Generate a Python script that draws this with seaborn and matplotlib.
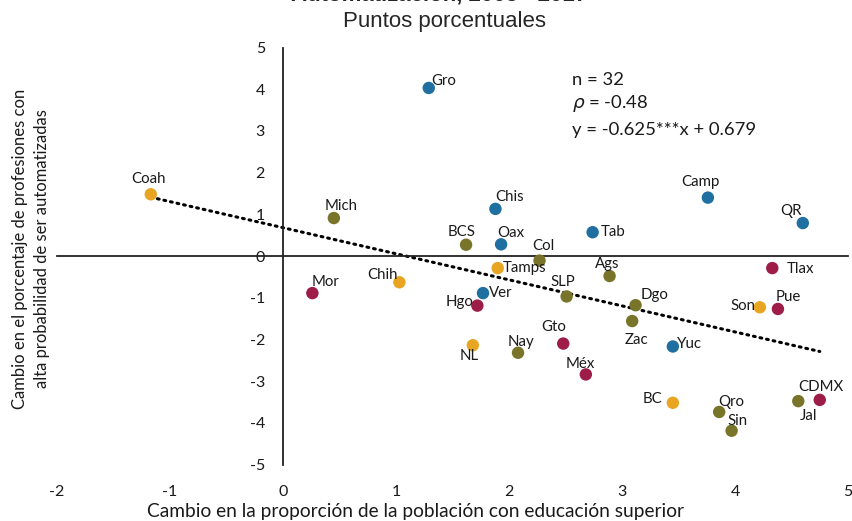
import matplotlib
matplotlib.use("Agg")
import matplotlib.pyplot as plt
import seaborn as sns
import numpy as np
import pandas as pd

# ---------------- data ----------------
estados = ["Coah", "Gro", "Mich", "Chis", "Oax", "Col", "Tab", "Camp", "QR", "BCS",
           "Tamps", "Mor", "Chih", "Ver", "Hgo", "SLP", "NL", "Nay", "Gto", "Méx",
           "Ags", "Tlax", "Dgo", "Zac", "Son", "Pue", "Yuc", "BC", "Qro", "Sin",
           "Jal", "CDMX"]
cambio_educacion = [-1.17, 1.29, 0.45, 1.88, 1.93, 2.27, 2.74, 3.76, 4.60, 1.62,
                    1.90, 0.26, 1.03, 1.77, 1.72, 2.51, 1.68, 2.08, 2.48, 2.68,
                    2.89, 4.33, 3.12, 3.09, 4.22, 4.38, 3.45, 3.45, 3.86, 3.97,
                    4.56, 4.75]
cambio_automatizacion = [1.48, 4.03, 0.91, 1.13, 0.28, -0.11, 0.57, 1.40, 0.79, 0.27,
                         -0.29, -0.89, -0.63, -0.89, -1.19, -0.97, -2.14, -2.32, -2.10, -2.84,
                         -0.48, -0.29, -1.18, -1.56, -1.23, -1.27, -2.17, -3.52, -3.74, -4.19,
                         -3.48, -3.45]
region = ["Norte", "Sur", "Centro-norte", "Sur", "Sur", "Centro-norte", "Sur", "Sur", "Sur", "Centro-norte",
          "Norte", "Centro", "Norte", "Sur", "Centro", "Centro-norte", "Norte", "Centro-norte", "Centro", "Centro",
          "Centro-norte", "Centro", "Centro-norte", "Centro-norte", "Norte", "Centro", "Sur", "Norte", "Centro-norte", "Centro-norte",
          "Centro-norte", "Centro"]
pendiente = -0.625
intercepto = 0.679
n_obs = 32
rho = -0.48
x_ticks = [-2, -1, 0, 1, 2, 3, 4, 5]
y_ticks = [-5, -4, -3, -2, -1, 0, 1, 2, 3, 4, 5]

# ---------------- styles / layout ----------------
palette = {"Sur": "#1F6FA0", "Norte": "#E8A521", "Centro-norte": "#78742A", "Centro": "#9E1C48"}
# label offsets in pixels (dx, dy, ha)
label_pos = {
    "Gro": (2, 7, "left"), "Coah": (-2, 15, "center"), "Mich": (7, 12, "center"),
    "Chis": (0, 12, "left"), "Oax": (-4, 11, "left"), "Col": (4, 15, "center"),
    "Tab": (8, 0, "left"), "Camp": (-7, 16, "center"), "QR": (-12, 12, "center"),
    "BCS": (-4, 13, "center"), "Tamps": (5, 0, "left"), "Mor": (13, 11, "center"),
    "Chih": (-17, 7, "center"), "Ver": (6, 0, "left"), "Hgo": (-4, 4, "right"),
    "SLP": (-4, 14, "center"), "NL": (-4, -11, "center"), "Nay": (3, 11, "center"),
    "Gto": (-10, 17, "center"), "Méx": (-6, 10, "center"), "Ags": (-2, 12, "center"),
    "Tlax": (14, -1, "left"), "Dgo": (5, 10, "left"), "Zac": (4, -19, "center"),
    "Son": (-4, 1, "right"), "Pue": (10, 12, "center"), "Yuc": (4, 2, "left"),
    "BC": (-10, 4, "right"), "Qro": (12, 10, "center"), "Sin": (6, 10, "center"),
    "Jal": (10, -15, "center"), "CDMX": (1, 13, "center"),
}

sns.set_style("white")
plt.rcParams["font.family"] = ["Lato", "DejaVu Sans"]
plt.rcParams["axes.unicode_minus"] = False

df = pd.DataFrame({"estado": estados, "x": cambio_educacion,
                   "y": cambio_automatizacion, "region": region})

W, H = 853, 521
fig = plt.figure(figsize=(W / 100, H / 100), dpi=100)
ax = fig.add_axes([57 / W, 1 - 464.5 / H, (848 - 57) / W, (464.5 - 47.5) / H])

# trend line
xl = np.array([min(cambio_educacion), max(cambio_educacion)])
ax.plot(xl, pendiente * xl + intercepto, color="black", lw=2.2,
        linestyle=(0, (0.6, 1.6)), dash_capstyle="round", zorder=1)

sns.scatterplot(data=df, x="x", y="y", hue="region", palette=palette, s=80,
                edgecolor="none", legend=False, ax=ax, zorder=3)

for e, xv, yv in zip(estados, cambio_educacion, cambio_automatizacion):
    dx, dy, ha = label_pos[e]
    ax.annotate(e, (xv, yv), xytext=(dx * 0.72, dy * 0.72), textcoords="offset points",
                ha=ha, va="center", fontsize=10.8, color="#1a1a1a", zorder=4)

ax.set_xlim(-2, 5)
ax.set_ylim(-5, 5)
ax.set_xlabel("")
ax.set_ylabel("")
for s in ["top", "right"]:
    ax.spines[s].set_visible(False)
ax.spines["left"].set_position(("data", 0))
ax.spines["bottom"].set_position(("data", 0))
for s in ["left", "bottom"]:
    ax.spines[s].set_color("#222222")
    ax.spines[s].set_linewidth(1.3)
ax.set_xticks(x_ticks)
ax.set_yticks(y_ticks)
ax.tick_params(axis="x", direction="out", length=5, width=1.2, color="#222222", labelbottom=False)
ax.tick_params(axis="y", direction="out", length=5, width=1.2, color="#222222",
               labelsize=11.5, pad=8, labelcolor="#1a1a1a")

sec = ax.secondary_xaxis("bottom")
sec.set_xticks(x_ticks)
sec.spines["bottom"].set_visible(False)
sec.tick_params(length=0, pad=15, labelsize=11.5, labelcolor="#1a1a1a")

# stats text
ax.text(2.56, 4.22, f"n = {n_obs}", fontsize=13.3, va="center", ha="left", color="#1a1a1a")
ax.text(2.56, 3.65, f"$\\rho$ = {rho:.2f}", fontsize=13.3, va="center", ha="left", color="#1a1a1a")
ax.text(2.56, 3.02, f"y = {pendiente:.3f}***x + {intercepto:.3f}", fontsize=13.3,
        va="center", ha="left", color="#1a1a1a")

# axis titles
fig.text(31 / W, 1 - 249 / H,
         "Cambio en el porcentaje de profesiones con\nalta probabilidad de ser automatizadas",
         rotation=90, ha="center", va="center", fontsize=12, linespacing=1.45, color="#1a1a1a")
fig.text(416 / W, 1 - 511 / H, "Cambio en la proporción de la población con educación superior",
         ha="center", va="center", fontsize=13.8, color="#1a1a1a")

# titles
fig.text(439 / W, 1 - 1 / H, "Automatización, 2005 - 2017", ha="center", va="baseline",
         fontsize=16, fontweight="bold", family="Liberation Sans")
fig.text(445 / W, 1 - 22 / H, "Puntos porcentuales", ha="center", va="center",
         fontsize=16, family="Liberation Sans")

fig.savefig("out.png", dpi=100)
